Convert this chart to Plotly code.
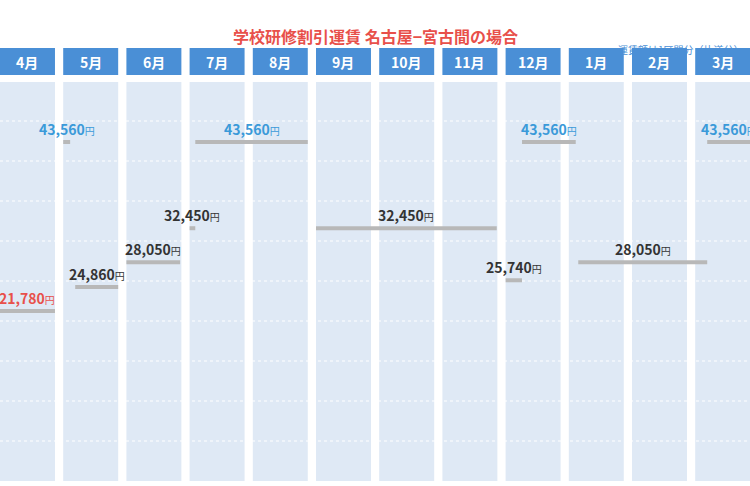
import plotly.graph_objects as go

months = ["4月","5月","6月","7月","8月","9月","10月","11月","12月","1月","2月","3月"]
seg_start = [0.0, 1.0, 1.19, 2.0, 3.0, 3.09, 5.0, 8.0, 8.26, 9.15, 11.19]
seg_end   = [0.87, 1.11, 1.87, 2.85, 3.09, 4.87, 7.86, 8.26, 9.11, 11.19, 11.87]
seg_price = [21780, 43560, 24860, 28050, 32450, 43560, 32450, 25740, 43560, 28050, 43560]
seg_color = ["#e8504a" if p == 21780 else ("#3a9ad9" if p == 43560 else "#333333") for p in seg_price]

W, H = 750, 486
PITCH = 63.2
k = 169 / 21780
ytop = 43560 + 142 / k
ybot = 43560 - 344 / k
xmax = W / PITCH
F = "Noto Sans CJK JP"

fig = go.Figure()
shapes, ann = [], []
for i, m in enumerate(months):
    x0 = i; x1 = min(i + 0.87, xmax)
    shapes.append(dict(type="rect", xref="x", yref="paper", x0=x0, x1=x1,
                       y0=1 - 481 / H, y1=1 - 82 / H, fillcolor="#dfe9f5", line_width=0, layer="below"))
    shapes.append(dict(type="rect", xref="x", yref="paper", x0=x0, x1=x1,
                       y0=1 - 75 / H, y1=1 - 48 / H, fillcolor="#4a8fd6", line_width=0, layer="below"))
    ann.append(dict(x=(x0 + x1) / 2, y=1 - 62 / H, xref="x", yref="paper", showarrow=False,
                    yanchor="middle", text=f"<b>{m}</b>",
                    font=dict(color="white", size=14, family=F)))
for py in range(121, 450, 40):
    shapes.append(dict(type="line", xref="paper", yref="paper", x0=0, x1=1, y0=1 - py / H, y1=1 - py / H,
                       line=dict(color="white", width=1, dash="dot"), layer="below"))

for s, e, p, c in zip(seg_start, seg_end, seg_price, seg_color):
    fig.add_trace(go.Scatter(x=[s, e], y=[p, p], mode="lines", line=dict(color="#b8b8b8", width=4),
                             hoverinfo="skip", showlegend=False))
    ann.append(dict(x=(s + e) / 2, y=p, showarrow=False, yshift=13,
                    text=f"<b>{p:,}</b><span style='font-size:10px'>円</span>",
                    font=dict(color=c, size=14, family=F)))

ann.append(dict(x=0.5, y=1 - 22 / H, xref="paper", yref="paper", showarrow=False,
                text="<b>学校研修割引運賃 名古屋−宮古間の場合</b>", font=dict(color="#e8504a", size=16, family=F)))
ann.append(dict(x=0.995, y=1 - 40 / H, xref="paper", yref="paper", showarrow=False, xanchor="right",
                text="運賃額は1区間分（片道分）", font=dict(color="#4a8fd6", size=10, family=F)))

fig.update_layout(width=W, height=H, margin=dict(l=0, r=0, t=0, b=0),
                  plot_bgcolor="white", paper_bgcolor="white", shapes=shapes, annotations=ann,
                  xaxis=dict(range=[0, xmax], visible=False, fixedrange=True),
                  yaxis=dict(range=[ybot, ytop], visible=False, fixedrange=True))
fig.write_html("out.html", config={"displayModeBar": False},
               post_script="document.body.style.margin='0';document.body.style.overflow='hidden';")
